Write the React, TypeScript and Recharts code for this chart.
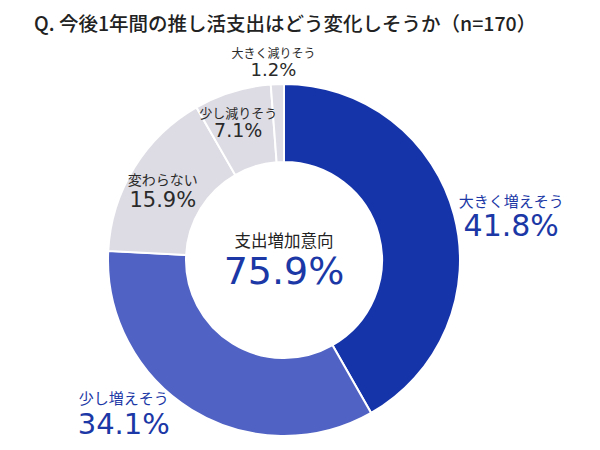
import React from 'react';
import { PieChart, Pie, Cell, Label } from 'recharts';

// Survey answers, in drawing order (clockwise from 12 o'clock)
const categories = ['大きく増えそう', '少し増えそう', '変わらない', '少し減りそう', '大きく減りそう'];
const shares = [41.8, 34.1, 15.9, 7.1, 1.2];
const increaseCount = 2; // the first two answers make up the "increase" group

const title = 'Q. 今後1年間の推し活支出はどう変化しそうか（n=170）';
const centerCaption = '支出増加意向';

const sliceColors = ['#1634AA', '#5062C3', '#DDDCE4', '#DDDCE4', '#DEDDE5'];
const labelColors = ['#1B38A6', '#1B38A6', '#2A2A2A', '#2A2A2A', '#2A2A2A'];

// Donut geometry
const PIE_CX = 284;
const PIE_CY = 260;

// Label placement per slice: radius from centre, angle shift from the slice mid-angle,
// font sizes of the name / value lines and their vertical offsets from the anchor.
const labelLayout = [
  { r: 232, shift: -3.2, nameSize: 15, valueSize: 30, nameDy: -13, valueDy: 12 },
  { r: 220, shift: -15.1, nameSize: 15, valueSize: 29, nameDy: -13, valueDy: 13 },
  { r: 140, shift: 1.5, nameSize: 14, valueSize: 21, nameDy: -10.5, valueDy: 10.5 },
  { r: 146, shift: 1.2, nameSize: 13, valueSize: 19, nameDy: -8.5, valueDy: 9 },
  { r: 199, shift: 0.9, nameSize: 12, valueSize: 18, nameDy: -8.5, valueDy: 8.5 },
];

const JP_FONT = '"Noto Sans CJK JP", "Noto Sans", sans-serif';
const NUM_FONT = '"DejaVu Sans", "Noto Sans", sans-serif';
const RAD = Math.PI / 180;

const data = categories.map((name, i) => ({ name, value: shares[i] }));
const increaseTotal = shares.slice(0, increaseCount).reduce((a, b) => a + b, 0);

const renderSliceLabel = (props: any) => {
  const { cx, cy, midAngle, index, value, name } = props;
  const l = labelLayout[index];
  const a = (midAngle + l.shift) * RAD;
  const x = cx + Math.cos(a) * l.r;
  const y = cy - Math.sin(a) * l.r;
  return (
    <g key={`lbl-${index}`}>
      <text
        x={x}
        y={y + l.nameDy}
        textAnchor="middle"
        dominantBaseline="central"
        fontFamily={JP_FONT}
        fontSize={l.nameSize}
        fill={labelColors[index]}
      >
        {name}
      </text>
      <text
        x={x}
        y={y + l.valueDy}
        textAnchor="middle"
        dominantBaseline="central"
        fontFamily={NUM_FONT}
        fontSize={l.valueSize}
        fill={labelColors[index]}
      >
        {`${Number(value).toFixed(1)}%`}
      </text>
    </g>
  );
};

const renderCenter = () => (
  <g>
    <text
      x={PIE_CX}
      y={PIE_CY - 20}
      textAnchor="middle"
      dominantBaseline="central"
      fontFamily={JP_FONT}
      fontSize={16.5}
      fill="#222"
    >
      {centerCaption}
    </text>
    <text
      x={PIE_CX}
      y={PIE_CY + 11}
      textAnchor="middle"
      dominantBaseline="central"
      fontFamily={NUM_FONT}
      fontSize={38}
      fill="#1B38A6"
    >
      {`${increaseTotal.toFixed(1)}%`}
    </text>
  </g>
);

export default function App() {
  return (
    <div style={{ position: 'absolute', left: 0, top: 0, width: 600, height: 450, background: '#fff' }}>
      <div
        style={{
          position: 'absolute',
          left: 34,
          top: 13,
          fontFamily: JP_FONT,
          fontSize: 19.5,
          lineHeight: '20px',
          fontWeight: 500,
          color: '#222',
          whiteSpace: 'nowrap',
        }}
      >
        {title}
      </div>
      <PieChart
        width={600}
        height={450}
        margin={{ top: 0, right: 0, bottom: 0, left: 0 }}
        style={{ position: 'absolute', left: 0, top: 0 }}
      >
        <Pie
          data={data}
          dataKey="value"
          nameKey="name"
          cx={PIE_CX}
          cy={PIE_CY}
          innerRadius={98}
          outerRadius={176}
          startAngle={90}
          endAngle={-270}
          stroke="#ffffff"
          strokeWidth={2}
          label={renderSliceLabel}
          labelLine={false}
          isAnimationActive={false}
        >
          {data.map((d, i) => (
            <Cell key={d.name} fill={sliceColors[i]} />
          ))}
          <Label position="center" content={renderCenter} />
        </Pie>
      </PieChart>
    </div>
  );
}
